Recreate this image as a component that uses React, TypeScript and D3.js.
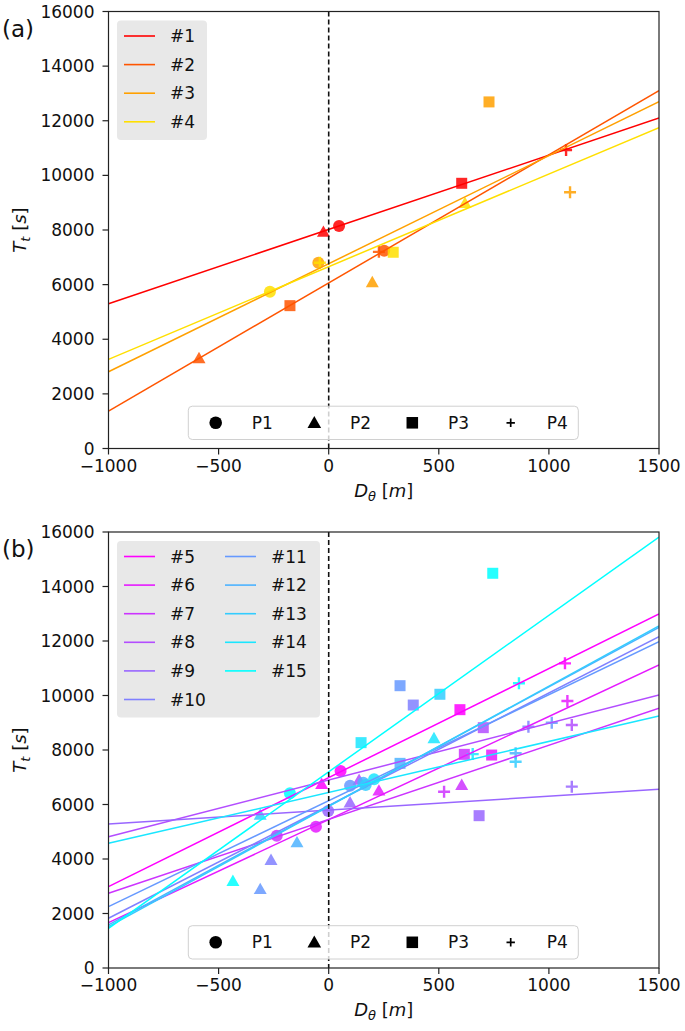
import React from 'react';
import * as d3 from 'd3';

// ---------- data ----------
const X_TICKS = [-1000, -500, 0, 500, 1000, 1500];
const Y_TICKS = [0, 2000, 4000, 6000, 8000, 10000, 12000, 14000, 16000];
const MARKER_LABELS = ['P1', 'P2', 'P3', 'P4'];

type Pt = [number, number] | null;

// Panel (a)
const A_NAMES = ['#1', '#2', '#3', '#4'];
const A_COLORS = ['#ff0000', '#ff5500', '#ffa000', '#ffdf00'];
const A_P1: Pt[] = [[47, 8150], [252, 7240], [-47, 6800], [-267, 5740]];
const A_P2: Pt[] = [[-24, 7930], [-589, 3300], [198, 6085], [619, 8980]];
const A_P3: Pt[] = [[604, 9710], [-176, 5230], [728, 12690], [293, 7185]];
const A_P4: Pt[] = [[1078, 10930], [228, 7200], [1096, 9380], [-40, 6800]];
const A_FIT_LEFT = [5300, 1370, 2810, 3265];   // fit value at x = -1000
const A_FIT_RIGHT = [12100, 13100, 12700, 11745]; // fit value at x = 1500

// Panel (b)
const B_NAMES = ['#5', '#6', '#7', '#8', '#9', '#10', '#11', '#12', '#13', '#14', '#15'];
const B_COLORS = ['#ff00ff', '#e61aff', '#cc33ff', '#b34dff', '#9966ff', '#8080ff', '#6699ff', '#4db3ff', '#33ccff', '#1ae6ff', '#00ffff'];
const B_P1: Pt[] = [[54, 7230], [-58, 5185], [-236, 4855], null, [-2, 5760], null, [97, 6690], [157, 6800], [168, 6715], [206, 6925], [-176, 6410]];
const B_P2: Pt[] = [[-32, 6750], [228, 6505], [604, 6715], [138, 6900], [97, 6070], [-262, 3960], [-311, 2890], [-144, 4610], [-311, 5615], [478, 8430], [-435, 3190]];
const B_P3: Pt[] = [[596, 9480], [740, 7815], [616, 7840], [702, 8820], [683, 5590], [384, 9650], [324, 10360], [324, 7510], [505, 10045], [147, 8270], [745, 14485]];
const B_P4: Pt[] = [[1073, 11180], [1084, 9800], [524, 6470], [1104, 8920], [1104, 6655], [907, 8855], [1013, 9000], [849, 7880], [849, 7570], [654, 7850], [864, 10450]];
const B_FIT_LEFT = [2985, 1665, 2740, 4820, 5285, 1825, 2250, 1580, 1515, 4575, 1455];
const B_FIT_RIGHT = [12990, 11120, 9530, 10020, 6560, 12160, 11975, 12500, 12550, 9250, 15815];

const X_DOMAIN: [number, number] = [-1000, 1500];
const Y_DOMAIN: [number, number] = [0, 16000];

const FONT = 'DejaVu Sans, Verdana, sans-serif';
const AX_L = 108.5;
const AX_R = 659;

type Kind = 'circle' | 'triangle' | 'square' | 'plus';
const KINDS: Kind[] = ['circle', 'triangle', 'square', 'plus'];

function Marker({ kind, x, y, color, s = 1, opacity = 0.85 }: { kind: Kind; x: number; y: number; color: string; s?: number; opacity?: number }) {
  if (kind === 'circle') return <circle cx={x} cy={y} r={6 * s} fill={color} opacity={opacity} />;
  if (kind === 'square') return <rect x={x - 5.5 * s} y={y - 5.5 * s} width={11 * s} height={11 * s} fill={color} opacity={opacity} />;
  if (kind === 'triangle') {
    const h = 6.5 * s;
    return <path d={`M${x},${y - h} L${x + h},${y + h * 0.75} L${x - h},${y + h * 0.75} Z`} fill={color} opacity={opacity} />;
  }
  const a = 6 * s;
  return (
    <path d={`M${x - a},${y} H${x + a} M${x},${y - a} V${y + a}`} stroke={color} strokeWidth={2.4 * s} fill="none" opacity={opacity} />
  );
}

type PanelProps = {
  top: number;
  bottom: number;
  label: string;
  names: string[];
  colors: string[];
  pts: Pt[][];
  fitL: number[];
  fitR: number[];
  rowsPerCol: number;
};

function Panel({ top, bottom, label, names, colors, pts, fitL, fitR, rowsPerCol }: PanelProps) {
  const x = d3.scaleLinear().domain(X_DOMAIN).range([AX_L, AX_R]);
  const y = d3.scaleLinear().domain(Y_DOMAIN).range([bottom, top]);
  const line = d3.line<[number, number]>().x((d) => x(d[0])).y((d) => y(d[1]));
  const clipId = `clip-${label.replace(/[()]/g, '')}`;
  const nCols = Math.ceil(names.length / rowsPerCol);
  const legW = nCols === 1 ? 90 : 203;
  const legH = rowsPerCol * 28.6 + 5;
  const legTop = top + 9;
  const rowY0 = top + 24.5;
  const midY = (top + bottom) / 2;
  const mlY = bottom - 25.7;
  const mlItems = [215.7, 314.3, 412.3, 510.7];
  const mlText = [251.7, 350, 448, 546.7];
  return (
    <g>
      <defs>
        <clipPath id={clipId}>
          <rect x={AX_L} y={top} width={AX_R - AX_L} height={bottom - top} />
        </clipPath>
      </defs>
      {/* markers */}
      <g clipPath={`url(#${clipId})`}>
        {names.map((n, i) => (
          <g key={n}>
            {KINDS.map((k, j) => {
              const p = pts[j][i];
              if (!p) return null;
              return <Marker key={k} kind={k} x={x(p[0])} y={y(p[1])} color={colors[i]} />;
            })}
          </g>
        ))}
        {/* fits */}
        {names.map((n, i) => (
          <path key={n} d={line([[X_DOMAIN[0], fitL[i]], [X_DOMAIN[1], fitR[i]]]) || ''} stroke={colors[i]} strokeWidth={1.5} fill="none" />
        ))}
        <line x1={x(0)} x2={x(0)} y1={top} y2={bottom} stroke="#111" strokeWidth={1.6} strokeDasharray="5,3" />
      </g>
      {/* frame */}
      <rect x={AX_L} y={top} width={AX_R - AX_L} height={bottom - top} fill="none" stroke="#222" strokeWidth={1.2} />
      {/* ticks */}
      {X_TICKS.map((t) => (
        <g key={t}>
          <line x1={x(t)} x2={x(t)} y1={bottom} y2={bottom + 6} stroke="#222" strokeWidth={1.2} />
          <text x={x(t)} y={bottom + 23} textAnchor="middle" fontSize={17} fontFamily={FONT} fill="#111">
            {t < 0 ? `\u2212${Math.abs(t)}` : t}
          </text>
        </g>
      ))}
      {Y_TICKS.map((t) => (
        <g key={t}>
          <line x1={AX_L - 6} x2={AX_L} y1={y(t)} y2={y(t)} stroke="#222" strokeWidth={1.2} />
          <text x={AX_L - 14} y={y(t)} dy="0.36em" textAnchor="end" fontSize={17} fontFamily={FONT} fill="#111">
            {t}
          </text>
        </g>
      ))}
      {/* axis labels */}
      <text transform={`translate(26,${midY}) rotate(-90)`} textAnchor="middle" fontSize={18} fontFamily={FONT} fill="#111">
        <tspan fontStyle="italic">T</tspan>
        <tspan fontStyle="italic" fontSize={13} dy={4}>t</tspan>
        <tspan dy={-4}> [</tspan>
        <tspan fontStyle="italic">s</tspan>
        <tspan>]</tspan>
      </text>
      <text x={(AX_L + AX_R) / 2} y={bottom + 48} textAnchor="middle" fontSize={18} fontFamily={FONT} fill="#111">
        <tspan fontStyle="italic">D</tspan>
        <tspan fontStyle="italic" fontSize={13} dy={4}>θ</tspan>
        <tspan dy={-4}> [</tspan>
        <tspan fontStyle="italic">m</tspan>
        <tspan>]</tspan>
      </text>
      <text x={2} y={top + 25} fontSize={23} fontFamily={FONT} fill="#111">{label}</text>
      {/* series legend */}
      <rect x={117} y={legTop} width={legW} height={legH} rx={4} fill="#e8e8e8" />
      {names.map((n, i) => {
        const col = Math.floor(i / rowsPerCol);
        const row = i % rowsPerCol;
        const ly = rowY0 + row * 28.6;
        const lx = 124 + col * 101;
        return (
          <g key={n}>
            <line x1={lx} x2={lx + 31} y1={ly} y2={ly} stroke={colors[i]} strokeWidth={1.6} />
            <text x={lx + 46} y={ly} dy="0.36em" fontSize={17} fontFamily={FONT} fill="#111">{n}</text>
          </g>
        );
      })}
      {/* marker legend */}
      <rect x={188.3} y={bottom - 42.3} width={390} height={33.3} rx={4} fill="#fff" fillOpacity={0.8} stroke="#d0d0d0" strokeWidth={1} />
      {MARKER_LABELS.map((m, j) => (
        <g key={m}>
          <Marker kind={KINDS[j]} x={mlItems[j]} y={mlY} color="#000" s={j === 3 ? 0.7 : 1.05} opacity={1} />
          <text x={mlText[j]} y={mlY} dy="0.36em" fontSize={17} fontFamily={FONT} fill="#111">{m}</text>
        </g>
      ))}
    </g>
  );
}

export default function App() {
  return (
    <svg width={685} height={1031} style={{ position: 'absolute', left: 0, top: 0, background: '#fff' }}>
      <rect width={685} height={1031} fill="#fff" />
      <Panel top={11.5} bottom={448.5} label="(a)" names={A_NAMES} colors={A_COLORS} pts={[A_P1, A_P2, A_P3, A_P4]} fitL={A_FIT_LEFT} fitR={A_FIT_RIGHT} rowsPerCol={4} />
      <Panel top={532} bottom={968} label="(b)" names={B_NAMES} colors={B_COLORS} pts={[B_P1, B_P2, B_P3, B_P4]} fitL={B_FIT_LEFT} fitR={B_FIT_RIGHT} rowsPerCol={6} />
    </svg>
  );
}
